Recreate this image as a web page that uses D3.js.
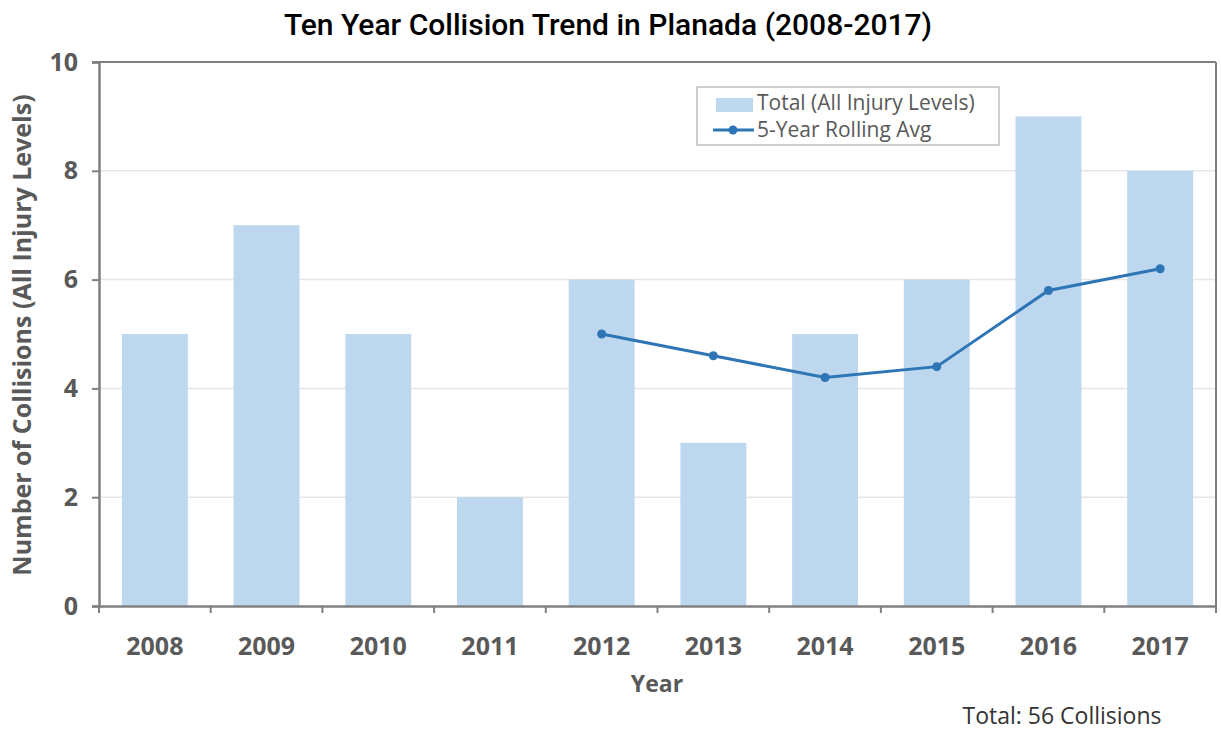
<!DOCTYPE html>
<html>
<head>
<meta charset="utf-8">
<script src="https://cdn.jsdelivr.net/npm/d3@7"></script>
<style>
  body { margin: 0; background: #fff; }
  text { font-family: "Open Sans", "DejaVu Sans", sans-serif; }
</style>
</head>
<body>
<svg width="1221" height="732"></svg>
<script>
// data
var years = ["2008","2009","2010","2011","2012","2013","2014","2015","2016","2017"];
var totals = [5, 7, 5, 2, 6, 3, 5, 6, 9, 8];
var avgYears = ["2012","2013","2014","2015","2016","2017"];
var rollingAvg = [5, 4.6, 4.2, 4.4, 5.8, 6.2];
var yTicks = [0, 2, 4, 6, 8, 10];

var svg = d3.select("svg"),
    margin = {top: 62, right: 5, bottom: 126, left: 99},
    width = 1221 - margin.left - margin.right,
    height = 732 - margin.top - margin.bottom,
    g = svg.append("g").attr("transform", "translate(" + margin.left + "," + margin.top + ")");

var x = d3.scaleBand().domain(years).range([0, width]).paddingInner(0.41).paddingOuter(0.205);
var xb = d3.scaleBand().domain(years).range([0, width]);
var y = d3.scaleLinear().domain([0, 10]).range([height, 0]);

// gridlines
g.append("g").selectAll("line")
  .data(yTicks.filter(function(d) { return d > 0 && d < 10; }))
  .enter().append("line")
  .attr("x1", 0).attr("x2", width)
  .attr("y1", function(d) { return y(d); })
  .attr("y2", function(d) { return y(d); })
  .attr("stroke", "#e6e6e6").attr("stroke-width", 1.5);

// bars
g.selectAll(".bar")
  .data(totals)
  .enter().append("rect")
  .attr("class", "bar")
  .attr("x", function(d, i) { return x(years[i]); })
  .attr("width", x.bandwidth())
  .attr("y", function(d) { return y(d); })
  .attr("height", function(d) { return height - y(d); })
  .attr("fill", "#bdd7ee");

// frame top + right
g.append("line").attr("x1", -7).attr("x2", width).attr("y1", 0).attr("y2", 0)
  .attr("stroke", "#808080").attr("stroke-width", 2);
g.append("line").attr("x1", width).attr("x2", width).attr("y1", 0).attr("y2", height + 7)
  .attr("stroke", "#808080").attr("stroke-width", 2);

// y axis
var yAxis = g.append("g")
  .call(d3.axisLeft(y).tickValues(yTicks).tickSize(7).tickPadding(14));
yAxis.select(".domain").attr("stroke", "#808080").attr("stroke-width", 2.5);
yAxis.selectAll(".tick line").attr("stroke", "#808080").attr("stroke-width", 2);
yAxis.selectAll("text").attr("fill", "#595959").style("font-size", "25px").style("font-weight", "bold");

// x axis, ticks at band edges
var xAxis = g.append("g").attr("transform", "translate(0," + height + ")")
  .call(d3.axisBottom(x).tickSize(0).tickPadding(31));
xAxis.select(".domain").attr("stroke", "#808080").attr("stroke-width", 2.5);
xAxis.selectAll("text").attr("fill", "#595959").style("font-size", "25px").style("font-weight", "bold");
xAxis.selectAll(".edge")
  .data(years)
  .enter().append("line")
  .attr("x1", function(d) { return xb(d); })
  .attr("x2", function(d) { return xb(d); })
  .attr("y1", 0).attr("y2", 7)
  .attr("stroke", "#808080").attr("stroke-width", 2);

// rolling average line
var line = d3.line()
  .x(function(d, i) { return x(avgYears[i]) + x.bandwidth() / 2; })
  .y(function(d) { return y(d); });

g.append("path")
  .datum(rollingAvg)
  .attr("d", line)
  .attr("fill", "none")
  .attr("stroke", "#2e75b6")
  .attr("stroke-width", 3);

g.selectAll(".dot")
  .data(rollingAvg)
  .enter().append("circle")
  .attr("cx", function(d, i) { return x(avgYears[i]) + x.bandwidth() / 2; })
  .attr("cy", function(d) { return y(d); })
  .attr("r", 4.5)
  .attr("fill", "#2e75b6");

// titles
svg.append("text")
  .attr("x", 608).attr("y", 35)
  .attr("text-anchor", "middle")
  .style("font-family", "Roboto, sans-serif")
  .style("font-size", "30px")
  .style("font-weight", "500")
  .attr("fill", "#000")
  .text("Ten Year Collision Trend in Planada (2008-2017)");

svg.append("text")
  .attr("transform", "translate(31," + (margin.top + height / 2 + 1) + ") rotate(-90)")
  .attr("text-anchor", "middle")
  .attr("fill", "#595959")
  .style("font-size", "25px").style("font-weight", "bold")
  .text("Number of Collisions (All Injury Levels)");

svg.append("text")
  .attr("x", 657).attr("y", 692)
  .attr("text-anchor", "middle")
  .attr("fill", "#595959")
  .style("font-size", "23px").style("font-weight", "bold")
  .text("Year");

svg.append("text")
  .attr("x", 1062).attr("y", 724)
  .attr("text-anchor", "middle")
  .attr("fill", "#333")
  .style("font-size", "23px")
  .text("Total: 56 Collisions");

// legend
var lg = svg.append("g").attr("transform", "translate(697,87)");
lg.append("rect").attr("width", 302).attr("height", 58)
  .attr("fill", "#fff").attr("stroke", "#bfbfbf").attr("stroke-width", 1.5);
lg.append("rect").attr("x", 19).attr("y", 11).attr("width", 37).attr("height", 14).attr("fill", "#bdd7ee");
lg.append("line").attr("x1", 16).attr("x2", 57).attr("y1", 43).attr("y2", 43)
  .attr("stroke", "#2e75b6").attr("stroke-width", 3);
lg.append("circle").attr("cx", 36).attr("cy", 43).attr("r", 4.5).attr("fill", "#2e75b6");
lg.append("text").attr("x", 60).attr("y", 23).attr("fill", "#595959")
  .style("font-size", "21px").text("Total (All Injury Levels)");
lg.append("text").attr("x", 60).attr("y", 50).attr("fill", "#595959")
  .style("font-size", "21px").text("5-Year Rolling Avg");
</script>
</body>
</html>
